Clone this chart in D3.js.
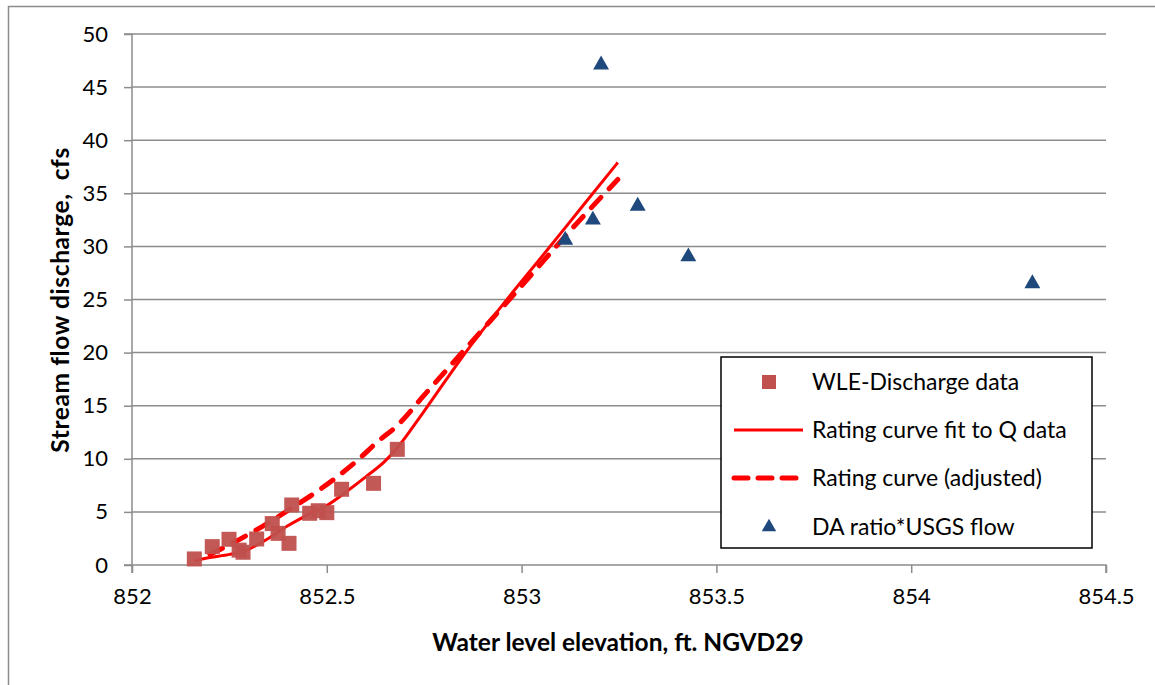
<!DOCTYPE html>
<html>
<head>
<meta charset="utf-8">
<script src="https://cdn.jsdelivr.net/npm/d3@7/dist/d3.min.js"></script>
<style>
  html, body { margin: 0; padding: 0; background: #fff; }
  svg { display: block; }
  text { font-family: Lato, "Open Sans", sans-serif; fill: #000; white-space: pre; }
</style>
</head>
<body>
<svg id="chart" width="1155" height="685"></svg>
<script>
// ---- Data ----
const xTicks = [852, 852.5, 853, 853.5, 854, 854.5];
const yTicks = [0, 5, 10, 15, 20, 25, 30, 35, 40, 45, 50];

const wleX = [852.16, 852.206, 852.249, 852.275, 852.285, 852.32, 852.36, 852.375, 852.403, 852.41, 852.456, 852.478, 852.50, 852.538, 852.62, 852.681];
const wleY = [0.57, 1.73, 2.42, 1.4, 1.2, 2.45, 3.9, 2.98, 2.04, 5.65, 4.87, 5.11, 4.93, 7.13, 7.69, 10.89];

const fitX = [852.16, 852.2, 852.25, 852.3, 852.35, 852.4, 852.45, 852.5, 852.55, 852.6, 852.65, 852.68, 852.75, 852.85, 852.96, 853.06, 853.15, 853.247];
const fitY = [0.4, 0.7, 1.0, 1.5, 2.5, 3.7, 4.7, 5.6, 6.9, 8.3, 9.8, 11.0, 14.5, 19.7, 24.9, 29.4, 33.5, 37.9];

const adjX = [852.2, 852.25, 852.3, 852.36, 852.42, 852.48, 852.53, 852.58, 852.63, 852.68, 852.75, 852.84, 852.92, 853.0, 853.06, 853.15, 853.247];
const adjY = [1.0, 1.9, 2.9, 4.2, 5.6, 7.05, 8.4, 9.9, 11.6, 13.1, 16.0, 19.7, 23.0, 26.3, 28.8, 32.5, 36.3];

const usgsX = [853.112, 853.183, 853.204, 853.298, 853.428, 854.311];
const usgsY = [30.6, 32.5, 47.1, 33.8, 29.03, 26.5];

const legendLabels = ["WLE-Discharge data", "Rating curve fit to Q data", "Rating curve (adjusted)", "DA ratio*USGS flow"];
const xTitle = "Water level elevation, ft. NGVD29";
const yTitle = "Stream flow discharge,  cfs";

// ---- Layout ----
const svg = d3.select("#chart");
const pLeft = 132, pRight = 1106, pTop = 34, pBottom = 565;
const x = d3.scaleLinear().domain([852, 854.5]).range([pLeft, pRight]);
const y = d3.scaleLinear().domain([0, 50]).range([pBottom, pTop]);
const gridColor = "#8c8c8c";
const sqColor = "#C0504D", triColor = "#1F497D", lineColor = "#FF0000";

// outer frame
svg.append("path").attr("d", "M8.5,685 L8.5,6.5 L1155,6.5")
  .attr("fill", "none").attr("stroke", gridColor).attr("stroke-width", 1.5);

// gridlines
svg.append("g").selectAll("line").data(yTicks.filter(d => d > 0)).join("line")
  .attr("x1", pLeft).attr("x2", pRight)
  .attr("y1", d => y(d)).attr("y2", d => y(d))
  .attr("stroke", gridColor).attr("stroke-width", 1.5);

// axes
const yAxis = d3.axisLeft(y).tickValues(yTicks).tickSize(8).tickPadding(16).tickFormat(d3.format("d"));
const gy = svg.append("g").attr("transform", `translate(${pLeft},0)`).call(yAxis);
const xAxis = d3.axisBottom(x).tickValues(xTicks).tickSize(8).tickPadding(15).tickFormat(d => String(d));
const gx = svg.append("g").attr("transform", `translate(0,${pBottom})`).call(xAxis);
[gx, gy].forEach(g => {
  g.select(".domain").attr("stroke", gridColor).attr("stroke-width", 1.5);
  g.selectAll(".tick line").attr("stroke", gridColor).attr("stroke-width", 1.5);
  g.selectAll(".tick text").style("font-family", "Lato, sans-serif").style("font-size", "22px").attr("fill", "#000");
});
gx.select(".domain").attr("d", `M${pLeft},8V0H${pRight}V8`);
gy.select(".domain").attr("d", `M-8,${pTop}H0V${pBottom}H-8`);

// axis titles
svg.append("text").attr("x", 618).attr("y", 651).attr("text-anchor", "middle")
  .style("font-size", "24.5px").style("font-weight", "bold").text(xTitle);
svg.append("text").attr("transform", "translate(69,300) rotate(-90)").attr("text-anchor", "middle")
  .style("font-size", "24.5px").style("font-weight", "bold").style("letter-spacing", "0.6px").text(yTitle);

// lines
const line = d3.line().x(d => x(d[0])).y(d => y(d[1])).curve(d3.curveMonotoneX);
svg.append("path").datum(fitX.map((v, i) => [v, fitY[i]]))
  .attr("d", line).attr("fill", "none").attr("stroke", lineColor).attr("stroke-width", 3);
svg.append("path").datum(adjX.map((v, i) => [v, adjY[i]]))
  .attr("d", line).attr("fill", "none").attr("stroke", lineColor).attr("stroke-width", 5)
  .attr("stroke-dasharray", "14,12").attr("stroke-linecap", "round");

// squares
const sq = 15;
svg.append("g").selectAll("rect").data(wleX.map((v, i) => [v, wleY[i]])).join("rect")
  .attr("x", d => x(d[0]) - sq / 2).attr("y", d => y(d[1]) - sq / 2)
  .attr("width", sq).attr("height", sq).attr("fill", sqColor).attr("fill-opacity", 0.95);

// triangles
const tri = d3.symbol().type(d3.symbolTriangle).size(110);
svg.append("g").selectAll("path").data(usgsX.map((v, i) => [v, usgsY[i]])).join("path")
  .attr("transform", d => `translate(${x(d[0])},${y(d[1])})`).attr("d", tri).attr("fill", triColor);

// legend
const lg = svg.append("g");
lg.append("rect").attr("x", 721).attr("y", 357).attr("width", 371).attr("height", 191)
  .attr("fill", "#fff").attr("stroke", "#000").attr("stroke-width", 1.5);
const rows = [382, 430, 478, 527];
lg.append("rect").attr("x", 769 - 7).attr("y", rows[0] - 7).attr("width", 14).attr("height", 14).attr("fill", sqColor);
lg.append("line").attr("x1", 734).attr("x2", 803).attr("y1", rows[1]).attr("y2", rows[1])
  .attr("stroke", lineColor).attr("stroke-width", 3);
lg.append("line").attr("x1", 734).attr("x2", 796).attr("y1", rows[2]).attr("y2", rows[2])
  .attr("stroke", lineColor).attr("stroke-width", 5).attr("stroke-dasharray", "14,10").attr("stroke-linecap", "round");
lg.append("path").attr("transform", `translate(769,${rows[3]})`).attr("d", d3.symbol().type(d3.symbolTriangle).size(90)).attr("fill", triColor);
lg.selectAll("text.lbl").data(legendLabels).join("text").attr("class", "lbl")
  .attr("x", 812).attr("y", (d, i) => rows[i]).attr("dy", "0.35em")
  .style("font-size", "23px").text(d => d);
</script>
</body>
</html>
